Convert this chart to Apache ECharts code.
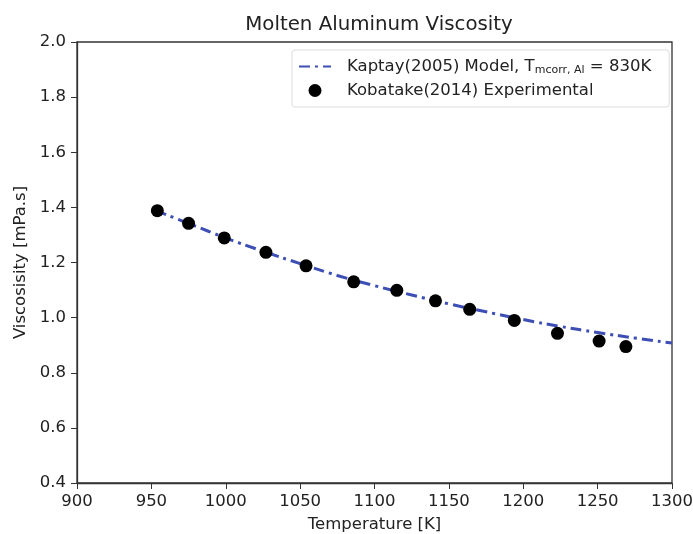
<!DOCTYPE html>
<html>
<head>
<meta charset="utf-8">
<script src="https://cdn.jsdelivr.net/npm/echarts@6/dist/echarts.min.js"></script>
<style>
  html, body { margin: 0; padding: 0; background: #fff; }
  #chart { width: 693px; height: 534px; }
</style>
</head>
<body>
<div id="chart"></div>
<script>
// model curve
var modelT = [953, 975, 1000, 1025, 1050, 1075, 1100, 1125, 1150, 1175, 1200, 1225, 1250, 1275, 1300]
var modelV = [1.388, 1.342, 1.289, 1.241, 1.196, 1.153, 1.116, 1.082, 1.050, 1.021, 0.993, 0.968, 0.946, 0.926, 0.908]
// experimental points
var expT = [954, 975, 999, 1027, 1054, 1086, 1115, 1141, 1164, 1194, 1223, 1251, 1269]
var expV = [1.388, 1.342, 1.289, 1.237, 1.188, 1.130, 1.099, 1.061, 1.030, 0.990, 0.943, 0.915, 0.895]
var xTicks = [900, 950, 1000, 1050, 1100, 1150, 1200, 1250, 1300]
var yTicks = [0.4, 0.6, 0.8, 1.0, 1.2, 1.4, 1.6, 1.8, 2.0]

var MODEL = 'Kaptay(2005) Model'
var EXP = 'Kobatake(2014) Experimental'
var FONT = 'DejaVu Sans'

var myChart = echarts.init(document.getElementById('chart'))

var option = {
  animation: false,
  backgroundColor: '#fff',
  textStyle: { fontFamily: FONT },
  title: {
    text: 'Molten Aluminum Viscosity',
    left: 374,
    textAlign: 'center',
    top: 10,
    textStyle: { fontFamily: FONT, fontSize: 19.8, fontWeight: 'normal', color: '#222' }
  },
  grid: {
    left: 77,
    right: 21,
    top: 42,
    bottom: 51,
    outerBoundsMode: 'none',
    containLabel: false,
    show: true,
    borderColor: '#333',
    borderWidth: 1.3
  },
  legend: {
    left: 292,
    top: 50,
    orient: 'vertical',
    itemWidth: 32,
    itemHeight: 13,
    itemGap: 6,
    padding: [8, 18, 8, 6],
    borderColor: '#ddd',
    borderWidth: 1,
    borderRadius: 3,
    data: [
      { name: MODEL, itemStyle: { opacity: 0 } },
      { name: EXP }
    ],
    formatter: function (name) {
      if (name === MODEL) {
        return 'Kaptay(2005) Model, T{sub|mcorr, Al} = 830K'
      }
      return name
    },
    textStyle: {
      fontFamily: FONT,
      fontSize: 16.5,
      color: '#222',
      padding: [0, 0, 0, 11],
      rich: {
        sub: { fontFamily: FONT, fontSize: 11, color: '#222', padding: [8, 0, 0, 0] }
      }
    }
  },
  xAxis: {
    type: 'value',
    min: 900,
    max: 1300,
    interval: 50,
    name: 'Temperature [K]',
    nameLocation: 'middle',
    nameGap: 33,
    nameTextStyle: { fontFamily: FONT, fontSize: 16.5, color: '#222' },
    axisLine: { lineStyle: { color: '#333', width: 1.3 } },
    axisTick: { show: true, inside: false, length: 6, lineStyle: { color: '#333' } },
    axisLabel: {
      fontFamily: FONT,
      fontSize: 16.5,
      color: '#222',
      margin: 10,
      formatter: function (v) { return xTicks.indexOf(v) >= 0 ? String(v) : '' }
    },
    splitLine: { show: false }
  },
  yAxis: {
    type: 'value',
    min: 0.4,
    max: 2.0,
    interval: 0.2,
    name: 'Viscosisity [mPa.s]',
    nameLocation: 'middle',
    nameGap: 47,
    nameTextStyle: { fontFamily: FONT, fontSize: 16.5, color: '#222' },
    axisLine: { show: true, lineStyle: { color: '#333', width: 1.3 } },
    axisTick: { show: true, inside: false, length: 6, lineStyle: { color: '#333' } },
    axisLabel: {
      fontFamily: FONT,
      fontSize: 16.5,
      color: '#222',
      margin: 11,
      formatter: function (v) {
        var hit = yTicks.filter(function (t) { return Math.abs(t - v) < 1e-6 })
        return hit.length ? hit[0].toFixed(1) : ''
      }
    },
    splitLine: { show: false }
  },
  series: [
    {
      name: MODEL,
      type: 'line',
      smooth: true,
      showSymbol: false,
      symbol: 'none',
      z: 2,
      lineStyle: { color: '#3d4eb5', width: 3, type: [11, 5, 3, 5] },
      itemStyle: { color: '#3d4eb5' },
      data: modelT.map(function (t, i) { return [t, modelV[i]] })
    },
    {
      name: EXP,
      type: 'scatter',
      symbol: 'circle',
      symbolSize: 13,
      z: 3,
      itemStyle: { color: '#000', opacity: 1 },
      data: expT.map(function (t, i) { return [t, expV[i]] })
    }
  ]
}

myChart.setOption(option)
window.addEventListener('resize', function () {
  myChart.resize()
})
</script>
</body>
</html>
